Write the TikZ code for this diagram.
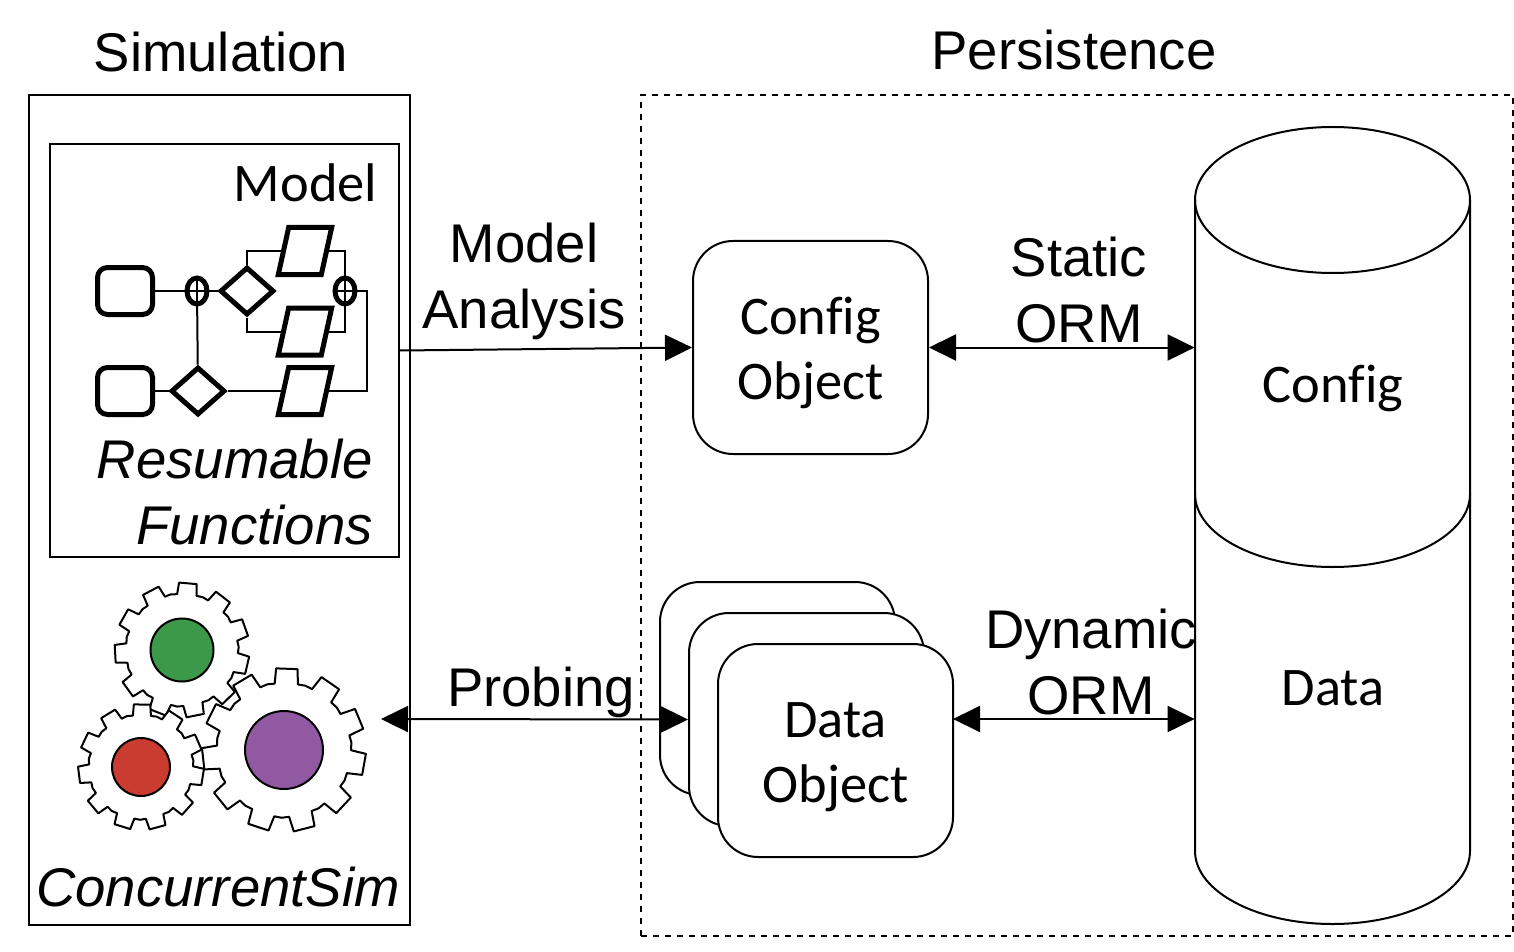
\documentclass[tikz,border=0pt]{standalone}
\usepackage{fontspec}
\setmainfont{Liberation Sans}
\newfontfamily\calfont[Ligatures=NoCommon]{Carlito}
\usetikzlibrary{arrows.meta,shapes.geometric}
\definecolor{ggreen}{HTML}{3C994A}
\definecolor{gred}{HTML}{CB3C30}
\definecolor{gpurple}{HTML}{9259A3}
\newcommand{\gearshape}[8]{% cx cy rout rroot phase rhole colour name
  \draw[gearline,fill=white]
    ([shift={(#1,#2)}]#5-10:#4)
    \foreach \i in {0,...,10}{
      -- ([shift={(#1,#2)}]#5+\i*32.727-10:#4)
      -- ([shift={(#1,#2)}]#5+\i*32.727-7.5:#3)
      -- ([shift={(#1,#2)}]#5+\i*32.727+7.5:#3)
      -- ([shift={(#1,#2)}]#5+\i*32.727+10:#4)
      -- ([shift={(#1,#2)}]#5+\i*32.727+16.36:#4+0.8)
    } -- cycle;
  \node[gearline,draw,circle,fill=#7,minimum size=#6*1pt,inner sep=0pt] (#8) at (#1,#2) {};
}
\tikzset{
  gearline/.style={line width=1pt,line join=round},
  lab/.style={font=\fontsize{27.25}{33}\selectfont,align=center,inner sep=0pt},
  labcal/.style={font=\calfont\fontsize{27.2}{32.5}\selectfont,align=center,inner sep=0pt},
  plainbox/.style={draw,line width=1pt,inner sep=0pt},
  objbox/.style={draw,line width=1pt,rounded corners=20pt,fill=white,minimum width=117.5pt,minimum height=106.5pt,inner sep=0pt,font=\calfont\fontsize{27.2}{32.5}\selectfont,align=center},
  link/.style={line width=1pt,{Triangle[length=13.5pt,width=13pt]}-{Triangle[length=13.5pt,width=13pt]}},
  oneway/.style={line width=1pt,-{Triangle[length=13.5pt,width=13pt]}},
  flow/.style={line width=1pt},
  startbox/.style={draw,line width=2.5pt,rounded corners=5pt,minimum width=27.5pt,minimum height=23.5pt,inner sep=0pt},
  gatebox/.style={draw,diamond,line width=2.5pt,minimum width=27pt,minimum height=24pt,inner sep=0pt,fill=white},
  taskbox/.style={draw,line width=2.5pt,xslant=0.22,transform shape,minimum width=21.5pt,minimum height=23.5pt,inner sep=0pt,fill=white},
  joinbox/.style={draw,ellipse,line width=2.5pt,minimum width=10pt,minimum height=13pt,inner sep=0pt,fill=white},
}
\begin{document}
\begin{tikzpicture}[x=0.5pt,y=-0.5pt]
\useasboundingbox (0,0) rectangle (1514,952);
% frames
\node[plainbox,minimum width=190.5pt,minimum height=415pt] (sim) at (219.5,510) {};
\node[plainbox,minimum width=174.5pt,minimum height=206.5pt] (model) at (224.5,350.5) {};
\node[plainbox,dashed,minimum width=436pt,minimum height=420.5pt] (pers) at (1077,515.5) {};
% database
\draw[line width=1pt] (1195,200) -- (1195,851) arc[start angle=180,end angle=360,x radius=68.75pt,y radius=36.5pt] -- (1470,200);
\draw[line width=1pt] (1332.5,200) ellipse[x radius=68.75pt,y radius=36.5pt];
\draw[line width=1pt] (1195,494) arc[start angle=180,end angle=360,x radius=68.75pt,y radius=36.5pt];
\node[minimum width=137.5pt,minimum height=398pt,inner sep=0pt] (db) at (1332.5,525.5) {};
% objects
\node[objbox] (cfg) at (810.5,347.5) {\rule{0pt}{24pt}Config\\Object};
\node[objbox] (data1) at (777.5,688.5) {};
\node[objbox] (data2) at (806.5,719.5) {};
\node[objbox] (data3) at (835.5,750.5) {\rule{0pt}{24pt}Data\\Object};
% connectors
\coordinate (probeend) at (381,719);
\coordinate (dataport) at (953,719);
\draw[oneway] (model.east) -- (cfg.west);
\draw[link] (cfg.east) -- (cfg.east -| db.west);
\draw[link] (probeend) -- (data2.west);
\draw[link] (dataport) -- (dataport -| db.west);
% process sketch
\coordinate (bend) at (367,291);
\node[startbox] (s1) at (125,291) {};
\node[startbox] (s2) at (125,391) {};
\node[joinbox] (j1) at (197,291) {};
\node[joinbox] (j2) at (345,291) {};
\node[gatebox] (d1) at (247,291) {};
\node[gatebox] (d2) at (198,391) {};
\draw[flow] (s1) -- (j1) -- (d1);
\draw[flow] (s2) -- (d2);
\draw[flow] (d2) -- (j1);
\draw[flow] (j1.north) -- (j1.south);
\draw[flow] (j1.west) -- (j1.east);
\draw[flow] (j2.north) -- (j2.south);
\draw[flow] (j2.west) -- (j2.east);
\node[taskbox] (p1) at (305,251) {};
\node[taskbox] (p2) at (305,331.5) {};
\node[taskbox] (p3) at (305,391) {};
\draw[flow] (d1.north) |- (p1.west);
\draw[flow] (d1.south) |- (p2.west);
\draw[flow] (p1.east) -| (j2.north);
\draw[flow] (p2.east) -| (j2.south);
\draw[flow] (j2.east) -- (bend) |- (p3.east);
\draw[flow] (d2.east) -- (p3.west);
% gears
\gearshape{182}{650}{67.5}{56}{-85}{31.5}{ggreen}{g1}
\gearshape{141}{767}{63}{52}{-89}{29}{gred}{g2}
\gearshape{284}{750}{82}{67}{-88}{39}{gpurple}{g3}
% labels
\node[lab,anchor=base] (tsim) at (221,72) {Simulation};
\node[lab,anchor=base] (tpers) at (1074,70) {Persistence};
\node[labcal,anchor=base] (tmodel) at (305.5,202) {Model};
\node[lab] (tana) at (524,281) {Model\\Analysis};
\node[lab] (tstat) at (1079,290) {Static\\ORM};
\node[lab] (tdyn) at (1091,662) {Dynamic\\ORM};
\node[lab,anchor=base] (tprobe) at (541,706) {Probing};
\node[lab,font=\itshape\fontsize{27.25}{33}\selectfont,align=right,anchor=east] (tres) at (373,492) {Resumable\\Functions};
\node[lab,font=\itshape\fontsize{27.25}{33}\selectfont,anchor=base] (tcs) at (218,906) {ConcurrentSim};
\node[labcal,anchor=base] (tc) at (1333,402) {Config};
\node[labcal,anchor=base] (td) at (1333,705) {Data};
\end{tikzpicture}
\end{document}
